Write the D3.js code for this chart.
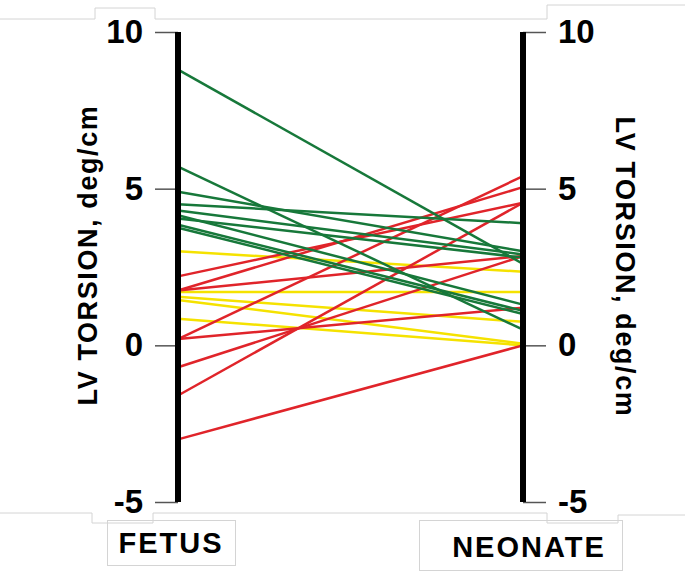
<!DOCTYPE html>
<html>
<head>
<meta charset="utf-8">
<script src="https://cdn.jsdelivr.net/npm/d3@7"></script>
<style>
  body { margin: 0; background: #fff; }
  text { font-family: "Liberation Sans", Arial, sans-serif; font-weight: bold; fill: #000; }
</style>
</head>
<body>
<div id="chart"></div>
<script>
// time points on the two axes
const stages = ["FETUS", "NEONATE"];
const tickValues = [-5, 0, 5, 10];

// LV torsion per subject (deg/cm), fetus -> neonate
const greenFetus   = [8.8, 5.7, 4.9, 4.5, 4.3, 4.15, 4.05, 3.85, 3.75];
const greenNeonate = [2.6, 0.5, 3.0, 3.9, 2.9, 1.3, 2.8, 1.1, 1.0];

const yellowFetus   = [3.0, 1.7, 1.55, 1.45, 0.85];
const yellowNeonate = [2.35, 1.7, 0.75, 0.05, 0.0];

const redFetus   = [2.2, 1.75, 1.75, 0.2, 0.2, -0.7, -1.6, -3.0];
const redNeonate = [4.55, 5.05, 2.85, 5.4, 1.2, 2.85, 4.55, 0.0];

var width = 685, height = 572;

var svg = d3.select("#chart").append("svg")
    .attr("width", width)
    .attr("height", height);

var x = d3.scalePoint().domain(stages).range([178, 523]);
var y = d3.scaleLinear().domain([-5, 10]).range([502, 32]);

// faint cell borders left over from the original figure
var frame = svg.append("g").attr("fill", "none").attr("stroke", "#d4d4d4").attr("stroke-width", 1);
frame.append("path").attr("d", "M0,19H95V8H155V19H547V5H685");
frame.append("path").attr("d", "M0,513H92V523H153V513H547V523H618V515H685");
frame.append("rect").attr("x", 107.5).attr("y", 520.5).attr("width", 128).attr("height", 45);
frame.append("rect").attr("x", 419.5).attr("y", 520.5).attr("width", 203).attr("height", 50);

var groups = [
  {color: "#f5e200", fetus: yellowFetus, neonate: yellowNeonate},
  {color: "#e0242a", fetus: redFetus, neonate: redNeonate},
  {color: "#17783a", fetus: greenFetus, neonate: greenNeonate}
];

var line = d3.line().x(d => x(d[0])).y(d => y(d[1]));

groups.forEach(function(g) {
  var pairs = g.fetus.map((v, i) => [[stages[0], v], [stages[1], g.neonate[i]]]);
  svg.append("g").selectAll("path")
    .data(pairs)
    .enter().append("path")
      .attr("d", line)
      .attr("fill", "none")
      .attr("stroke", g.color)
      .attr("stroke-width", 2.5);
});

// axes
var leftAxis = d3.axisLeft(y).tickValues(tickValues).tickSize(23).tickPadding(12).tickFormat(d => String(d));
var rightAxis = d3.axisRight(y).tickValues(tickValues).tickSize(23).tickPadding(12).tickFormat(d => String(d));

function styleAxis(g) {
  g.select(".domain").remove();
  g.selectAll(".tick line").attr("stroke", "#555").attr("stroke-width", 1.5);
  g.selectAll(".tick text")
    .attr("font-size", 33)
    .attr("font-family", "Liberation Sans, Arial, sans-serif")
    .attr("font-weight", "bold")
    .attr("fill", "#000");
}

svg.append("g").attr("transform", "translate(" + x(stages[0]) + ",0)").call(leftAxis).call(styleAxis);
svg.append("g").attr("transform", "translate(" + x(stages[1]) + ",0)").call(rightAxis).call(styleAxis);

// thick black axis bars
stages.forEach(function(s) {
  svg.append("line")
    .attr("x1", x(s)).attr("x2", x(s))
    .attr("y1", y(10)).attr("y2", y(-5))
    .attr("stroke", "#000")
    .attr("stroke-width", 6);
});

// axis titles
svg.append("text")
  .attr("transform", "translate(87," + 255 + ") rotate(-90)")
  .attr("text-anchor", "middle")
  .attr("dy", "0.36em")
  .attr("font-size", 27)
  .attr("letter-spacing", 1.6)
  .text("LV TORSION, deg/cm");

svg.append("text")
  .attr("transform", "translate(626," + 267 + ") rotate(90)")
  .attr("text-anchor", "middle")
  .attr("dy", "0.36em")
  .attr("font-size", 27)
  .attr("letter-spacing", 1.6)
  .text("LV TORSION, deg/cm");

// stage labels
svg.append("text").attr("x", 171).attr("y", 553)
  .attr("text-anchor", "middle").attr("font-size", 29).attr("letter-spacing", 2)
  .text(stages[0]);
svg.append("text").attr("x", 529).attr("y", 557)
  .attr("text-anchor", "middle").attr("font-size", 29).attr("letter-spacing", 2)
  .text(stages[1]);
</script>
</body>
</html>
